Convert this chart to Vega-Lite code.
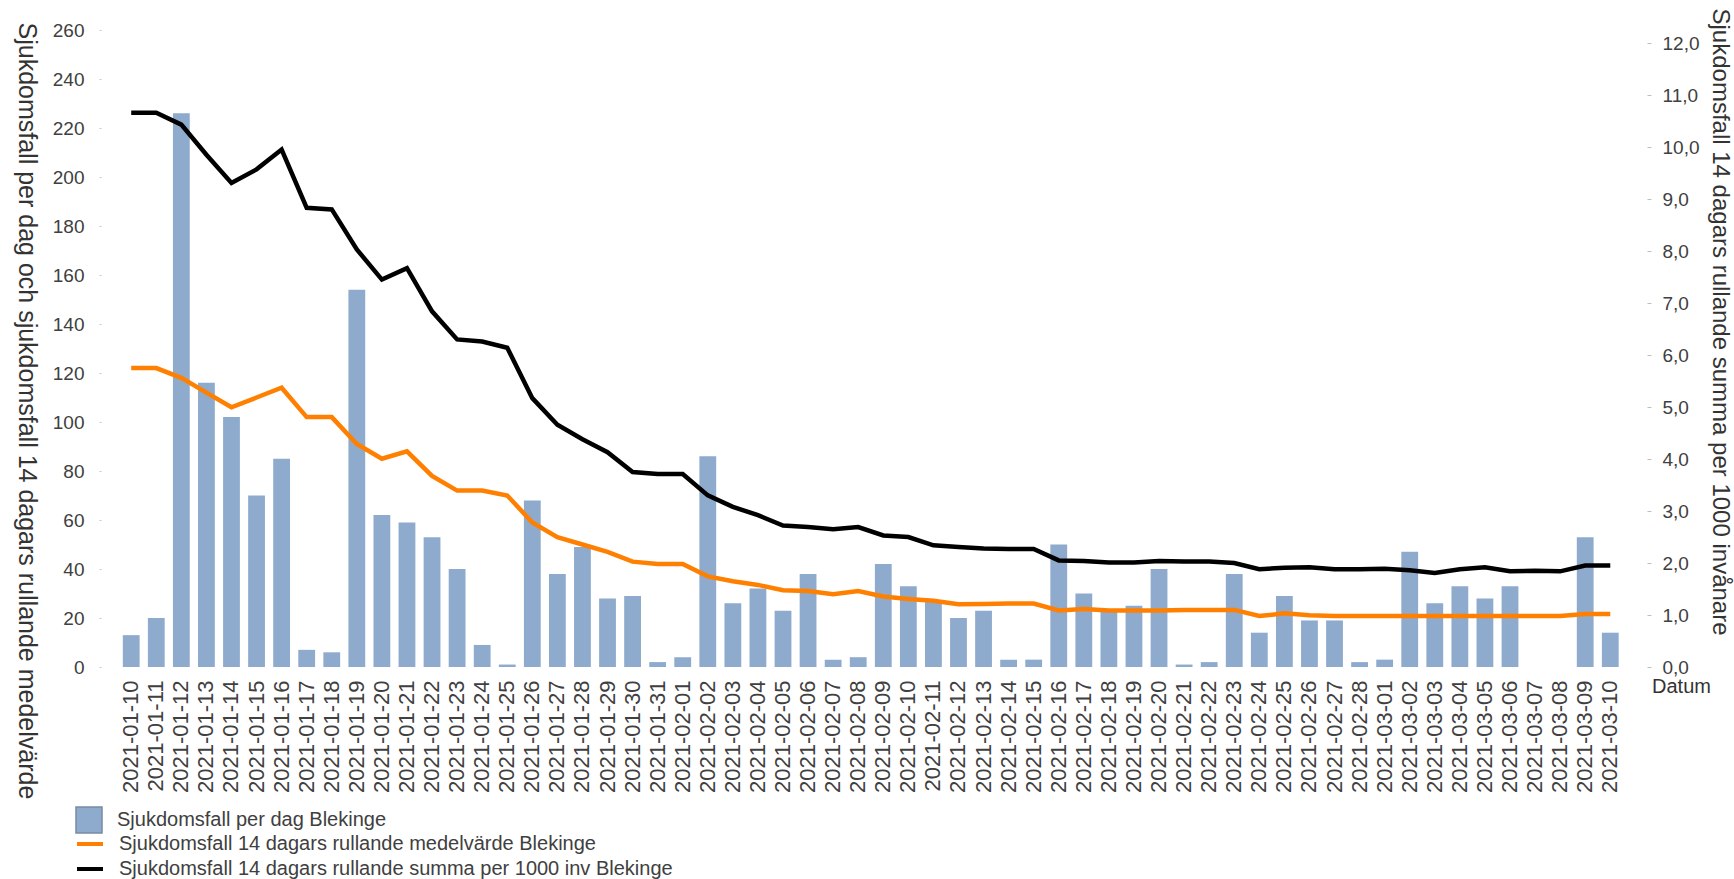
{
  "$schema": "https://vega.github.io/schema/vega-lite/v6.json",
  "width": 1546,
  "height": 637,
  "autosize": {"type": "none"},
  "padding": {"left": 101, "top": 30, "right": 87, "bottom": 212},
  "background": "white",
  "config": {
    "font": "Liberation Sans",
    "view": {"stroke": null},
    "axis": {"grid": false, "domain": false, "labelColor": "#404040", "titleColor": "#333333", "titleFontWeight": "normal", "labelFont": "Liberation Sans", "titleFont": "Liberation Sans"},
    "legend": {"labelFont": "Liberation Sans", "labelColor": "#404040", "labelLimit": 0}
  },
  "data": {"values": [
    {"d":"2021-01-10","n":13,"m":122,"s":10.66},
    {"d":"2021-01-11","n":20,"m":122,"s":10.66},
    {"d":"2021-01-12","n":226,"m":118,"s":10.43},
    {"d":"2021-01-13","n":116,"m":112,"s":9.85},
    {"d":"2021-01-14","n":102,"m":106,"s":9.31},
    {"d":"2021-01-15","n":70,"m":110,"s":9.57},
    {"d":"2021-01-16","n":85,"m":114,"s":9.95},
    {"d":"2021-01-17","n":7,"m":102,"s":8.83},
    {"d":"2021-01-18","n":6,"m":102,"s":8.80},
    {"d":"2021-01-19","n":154,"m":91,"s":8.03},
    {"d":"2021-01-20","n":62,"m":85,"s":7.45},
    {"d":"2021-01-21","n":59,"m":88,"s":7.67},
    {"d":"2021-01-22","n":53,"m":78,"s":6.84},
    {"d":"2021-01-23","n":40,"m":72,"s":6.30},
    {"d":"2021-01-24","n":9,"m":72,"s":6.26},
    {"d":"2021-01-25","n":1,"m":70,"s":6.14},
    {"d":"2021-01-26","n":68,"m":59,"s":5.17},
    {"d":"2021-01-27","n":38,"m":53,"s":4.66},
    {"d":"2021-01-28","n":49,"m":50,"s":4.38},
    {"d":"2021-01-29","n":28,"m":47,"s":4.13},
    {"d":"2021-01-30","n":29,"m":43,"s":3.75},
    {"d":"2021-01-31","n":2,"m":42,"s":3.71},
    {"d":"2021-02-01","n":4,"m":42,"s":3.71},
    {"d":"2021-02-02","n":86,"m":37,"s":3.30},
    {"d":"2021-02-03","n":26,"m":35,"s":3.08},
    {"d":"2021-02-04","n":32,"m":33.5,"s":2.92},
    {"d":"2021-02-05","n":23,"m":31.3,"s":2.72},
    {"d":"2021-02-06","n":38,"m":31,"s":2.69},
    {"d":"2021-02-07","n":3,"m":29.7,"s":2.65},
    {"d":"2021-02-08","n":4,"m":31,"s":2.69},
    {"d":"2021-02-09","n":42,"m":28.8,"s":2.53},
    {"d":"2021-02-10","n":33,"m":27.8,"s":2.50},
    {"d":"2021-02-11","n":27,"m":27,"s":2.34},
    {"d":"2021-02-12","n":20,"m":25.6,"s":2.31},
    {"d":"2021-02-13","n":23,"m":25.7,"s":2.28},
    {"d":"2021-02-14","n":3,"m":25.9,"s":2.27},
    {"d":"2021-02-15","n":3,"m":25.9,"s":2.27},
    {"d":"2021-02-16","n":50,"m":23.1,"s":2.05},
    {"d":"2021-02-17","n":30,"m":23.7,"s":2.04},
    {"d":"2021-02-18","n":23,"m":23.1,"s":2.01},
    {"d":"2021-02-19","n":25,"m":23.1,"s":2.01},
    {"d":"2021-02-20","n":40,"m":23.1,"s":2.04},
    {"d":"2021-02-21","n":1,"m":23.3,"s":2.03},
    {"d":"2021-02-22","n":2,"m":23.3,"s":2.03},
    {"d":"2021-02-23","n":38,"m":23.3,"s":2.00},
    {"d":"2021-02-24","n":14,"m":20.8,"s":1.88},
    {"d":"2021-02-25","n":29,"m":21.9,"s":1.91},
    {"d":"2021-02-26","n":19,"m":21.1,"s":1.92},
    {"d":"2021-02-27","n":19,"m":20.8,"s":1.88},
    {"d":"2021-02-28","n":2,"m":20.8,"s":1.88},
    {"d":"2021-03-01","n":3,"m":20.8,"s":1.89},
    {"d":"2021-03-02","n":47,"m":20.8,"s":1.86},
    {"d":"2021-03-03","n":26,"m":20.8,"s":1.81},
    {"d":"2021-03-04","n":33,"m":20.8,"s":1.88},
    {"d":"2021-03-05","n":28,"m":20.8,"s":1.92},
    {"d":"2021-03-06","n":33,"m":20.8,"s":1.84},
    {"d":"2021-03-07","n":0,"m":20.8,"s":1.85},
    {"d":"2021-03-08","n":0,"m":20.8,"s":1.84},
    {"d":"2021-03-09","n":53,"m":21.6,"s":1.95},
    {"d":"2021-03-10","n":14,"m":21.6,"s":1.95}
  ]},
  "encoding": {
    "x": {
      "field": "d", "type": "ordinal", "sort": null,
      "scale": {"paddingInner": 0.33, "paddingOuter": 1.08, "align": 0.435},
      "axis": {
        "labelAngle": -90, "labelFontSize": 22, "labelPadding": 13, "ticks": false, "domain": false, "labelOverlap": false,
        "title": "Datum", "titleFontSize": 20, "titleAngle": 0, "titleX": 1580, "titleY": 19, "titleAlign": "center", "titleBaseline": "middle", "titleAnchor": null
      }
    }
  },
  "layer": [
    {
      "layer": [
        {
          "mark": {"type": "bar"},
          "encoding": {
            "y": {"field": "n", "type": "quantitative", "scale": {"domain": [0, 260], "nice": false},
              "axis": {"orient": "left", "values": [0,20,40,60,80,100,120,140,160,180,200,220,240,260], "labelFontSize": 19, "tickSize": 2, "tickColor": "#c8c8c8", "labelPadding": 15,
                "title": "Sjukdomsfall per dag och sjukdomsfall 14 dagars rullande medelvärde", "titleFontSize": 25, "titleAngle": 90, "titleX": -75, "titleY": -8, "titleAlign": "left", "titleBaseline": "middle"}},
            "fill": {"datum": "Sjukdomsfall per dag Blekinge", "type": "nominal",
              "scale": {"range": ["#8eaacc"]},
              "legend": {"orient": "none", "legendX": -26, "legendY": 776, "padding": 0, "title": null, "symbolType": "square", "symbolSize": 676, "symbolStrokeColor": "#7a8aa3", "symbolStrokeWidth": 1.5, "labelFontSize": 20, "labelOffset": 14, "labelLimit": 0}}
          }
        },
        {
          "mark": {"type": "line", "strokeWidth": 4.5},
          "encoding": {
            "y": {"field": "m", "type": "quantitative", "scale": {"domain": [0, 260], "nice": false},
              "axis": {"orient": "left", "values": [0,20,40,60,80,100,120,140,160,180,200,220,240,260], "labelFontSize": 19, "tickSize": 2, "tickColor": "#c8c8c8", "labelPadding": 15,
                "title": "Sjukdomsfall per dag och sjukdomsfall 14 dagars rullande medelvärde", "titleFontSize": 25, "titleAngle": 90, "titleX": -75, "titleY": -8, "titleAlign": "left", "titleBaseline": "middle"}},
            "stroke": {"datum": "Sjukdomsfall 14 dagars rullande medelvärde Blekinge", "type": "nominal",
              "scale": {"domain": ["Sjukdomsfall 14 dagars rullande medelvärde Blekinge", "Sjukdomsfall 14 dagars rullande summa per 1000 inv Blekinge"], "range": ["#ff8000", "#000000"]},
              "legend": {"orient": "none", "legendX": -26, "legendY": 799, "padding": 0, "title": null, "symbolType": "stroke", "symbolSize": 676, "symbolStrokeWidth": 4, "labelFontSize": 20, "labelOffset": 14, "rowPadding": -3, "labelLimit": 0}}
          }
        }
      ]
    },
    {
      "mark": {"type": "line", "strokeWidth": 4.5},
      "encoding": {
        "y": {"field": "s", "type": "quantitative", "scale": {"domain": [0, 12.25], "nice": false},
          "axis": {"orient": "right", "values": [0,1,2,3,4,5,6,7,8,9,10,11,12], "labelExpr": "replace(format(datum.value, '.1f'), '.', ',')", "labelFontSize": 19, "tickSize": 4, "tickColor": "#c0c0c0", "labelPadding": 11,
            "title": "Sjukdomsfall 14 dagars rullande summa per 1000 invånare", "titleFontSize": 24, "titleAngle": 90, "titleX": 72, "titleY": -22, "titleAlign": "left", "titleBaseline": "middle"}},
        "stroke": {"datum": "Sjukdomsfall 14 dagars rullande summa per 1000 inv Blekinge", "type": "nominal"}
      }
    }
  ],
  "resolve": {"scale": {"y": "independent"}}
}
